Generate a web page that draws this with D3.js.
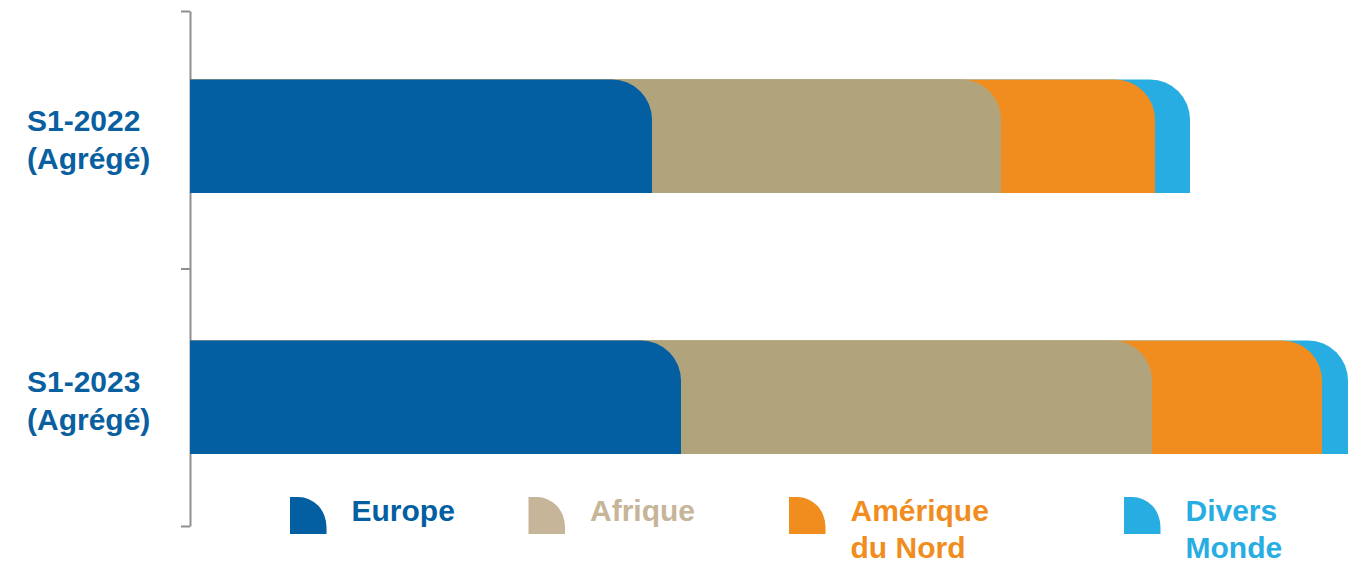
<!DOCTYPE html>
<html>
<head>
<meta charset="utf-8">
<script src="https://cdn.jsdelivr.net/npm/d3@7"></script>
<style>
  html, body { margin: 0; padding: 0; background: #fff; }
  svg { display: block; }
  text { font-family: "Liberation Sans", Arial, Helvetica, sans-serif; font-weight: bold; }
</style>
</head>
<body>
<svg id="chart" width="1364" height="564"></svg>
<script>
// ---- data ----
const categories = ["S1-2022", "S1-2023"];
const categorySub = ["(Agrégé)", "(Agrégé)"];
const seriesNames = ["Europe", "Afrique", "Amérique du Nord", "Divers Monde"];
const legendLines = [["Europe"], ["Afrique"], ["Amérique", "du Nord"], ["Divers", "Monde"]];
const europe   = [462, 491];
const afrique  = [349, 471];
const amerique = [154, 170];
const divers   = [35, 26];

// ---- styles ----
const barColors = ["#035FA2", "#B1A47D", "#F08D1E", "#28ADE3"];
const legendColors = ["#035FA2", "#C6B599", "#F08D1E", "#28ADE3"];
const labelColor = "#0A5FA0";

const svg = d3.select("#chart");
const seriesValues = [europe, afrique, amerique, divers];

const totals = categories.map((c, i) => d3.sum(seriesValues, s => s[i]));
const x = d3.scaleLinear().domain([0, d3.max(totals)]).range([190, 1348]);
const y = d3.scaleBand().domain(categories).range([79.5, 454]).paddingInner(0.565);

// axis (ticks at band boundaries)
const yAxisScale = d3.scaleLinear().domain([0, categories.length]).range([11, 526]);
const axisG = svg.append("g")
  .attr("transform", "translate(190,0)")
  .call(d3.axisLeft(yAxisScale).tickValues(d3.range(categories.length + 1)).tickFormat("").tickSize(9).tickSizeOuter(0));
axisG.selectAll("path, line").attr("stroke", "#8f8f8f").attr("stroke-width", 2);

// bars with rounded top-right corners, drawn back to front
function topRight(x0, x1, y0, h, r) {
  r = Math.max(0, Math.min(r, x1 - x0, h));
  return `M${x0},${y0}H${x1 - r}A${r},${r} 0 0 1 ${x1},${y0 + r}V${y0 + h}H${x0}Z`;
}

categories.forEach((cat, i) => {
  const cum = [];
  let acc = 0;
  seriesValues.forEach(s => { acc += s[i]; cum.push(acc); });
  const g = svg.append("g");
  for (let k = seriesValues.length - 1; k >= 0; k--) {
    g.append("path")
      .attr("d", topRight(x(0), x(cum[k]), y(cat), y.bandwidth(), 40))
      .attr("fill", barColors[k]);
  }
  const cy = y(cat) + y.bandwidth() / 2;
  svg.append("text").attr("x", 27).attr("y", cy - 5).attr("font-size", 30)
    .attr("fill", labelColor).text(cat);
  svg.append("text").attr("x", 27).attr("y", cy + 33).attr("font-size", 30)
    .attr("fill", labelColor).text(categorySub[i]);
});

// legend
const legendX = [290, 528.5, 789, 1124];
seriesNames.forEach((name, k) => {
  const lx = legendX[k];
  const g = svg.append("g");
  g.append("path")
    .attr("d", `M${lx},497H${lx + 8}A28,30 0 0 1 ${lx + 36.5},527V534H${lx}Z`)
    .attr("fill", legendColors[k]);
  legendLines[k].forEach((line, j) => {
    g.append("text").attr("x", lx + 61.5).attr("y", 521 + j * 36.5)
      .attr("font-size", 30).attr("fill", legendColors[k]).text(line);
  });
});
</script>
</body>
</html>
